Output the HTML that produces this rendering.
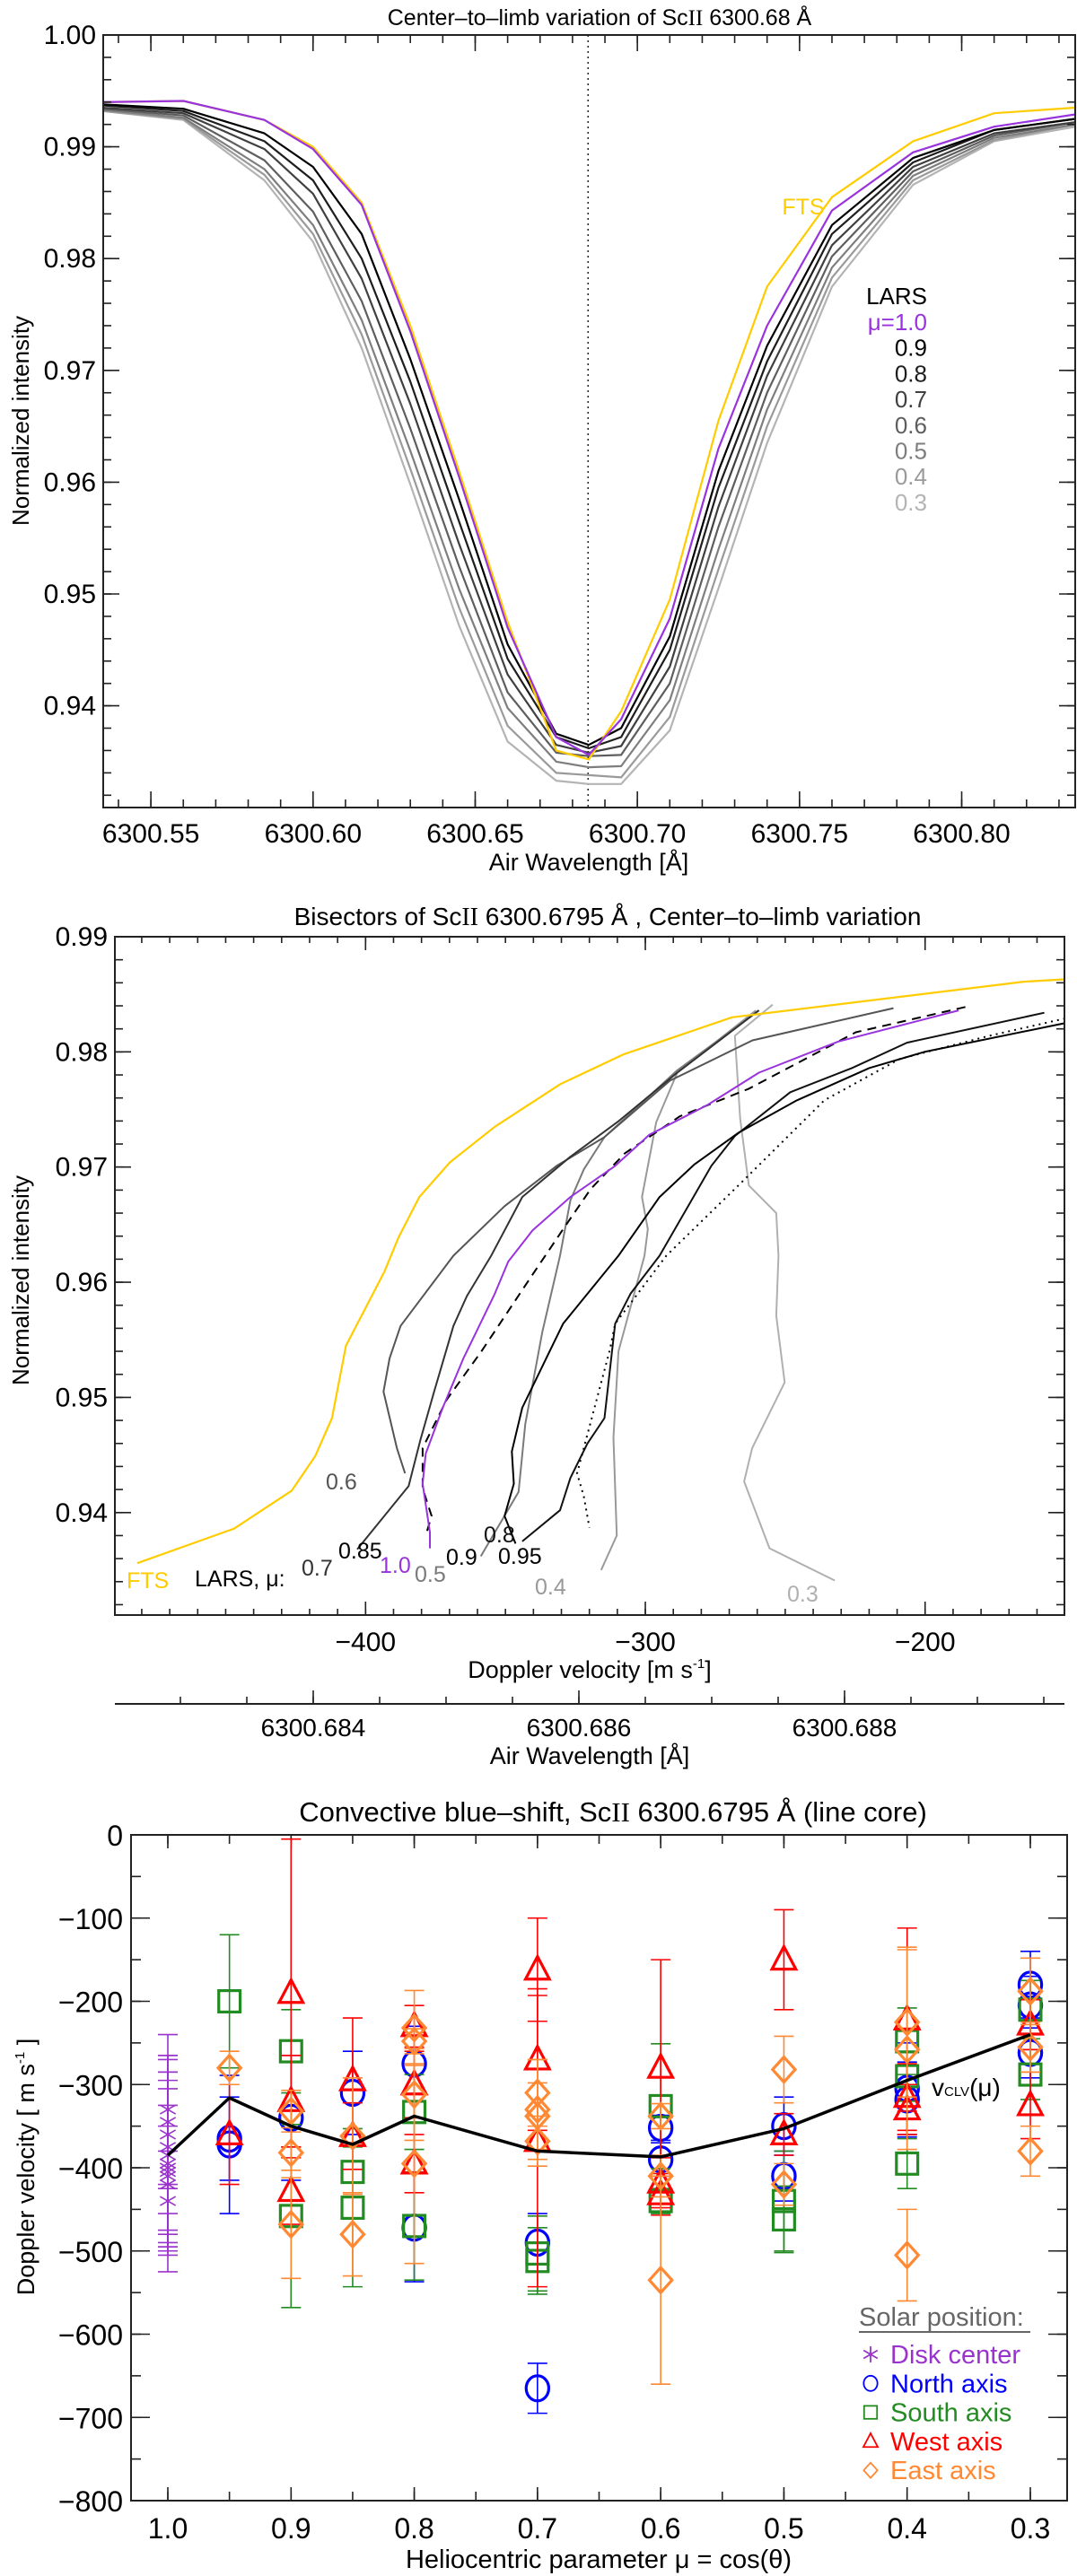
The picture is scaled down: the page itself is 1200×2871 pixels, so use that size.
<!DOCTYPE html>
<html><head><meta charset="utf-8">
<style>
html,body{margin:0;padding:0;background:#fff;}
svg{display:block;font-family:"Liberation Sans",sans-serif;}
</style></head>
<body>
<svg id="fig" xmlns="http://www.w3.org/2000/svg" width="1200" height="2871" viewBox="0 0 1200 2871">
<rect x="0" y="0" width="1200" height="2871" fill="#fff"/>
<!-- Panel 1 static text -->
<text x="668" y="28" font-size="25" text-anchor="middle">Center–to–limb variation of Sc<tspan font-family="Liberation Serif">II</tspan> 6300.68 Å</text>
<text transform="translate(32,469) rotate(-90)" font-size="26" text-anchor="middle">Normalized intensity</text>
<text x="656" y="970" font-size="27" text-anchor="middle">Air Wavelength [Å]</text>
<!-- Panel 2 static text -->
<text x="677" y="1031" font-size="28" text-anchor="middle">Bisectors of Sc<tspan font-family="Liberation Serif">II</tspan> 6300.6795 Å , Center–to–limb variation</text>
<text transform="translate(32,1427) rotate(-90)" font-size="26" text-anchor="middle">Normalized intensity</text>
<text x="657" y="1870" font-size="27" text-anchor="middle">Doppler velocity [m s<tspan font-size="15" dy="-11">-1</tspan><tspan dy="11">]</tspan></text>
<text x="657" y="1966" font-size="27" text-anchor="middle">Air Wavelength [Å]</text>
<!-- Panel 3 static text -->
<text x="683" y="2030" font-size="31" text-anchor="middle">Convective blue–shift, Sc<tspan font-family="Liberation Serif">II</tspan> 6300.6795 Å (line core)</text>
<text transform="translate(38,2415) rotate(-90)" font-size="27" text-anchor="middle">Doppler velocity [ m s<tspan font-size="15" dy="-11">-1</tspan><tspan dy="11"> ]</tspan></text>
<text x="667" y="2862" font-size="29" text-anchor="middle">Heliocentric parameter μ = cos(θ)</text>
<g id="p1"></g>
<g id="p2"></g>
<g id="p3"></g>
</svg>
<script>
// ================= Panel 1 data =================
const p1Wave = [6300.535,6300.56,6300.585,6300.60,6300.615,6300.63,6300.645,6300.66,6300.675,6300.685,6300.695,6300.71,6300.725,6300.74,6300.76,6300.785,6300.81,6300.835];
const p1FTS  = [.9940,.9941,.9924,.9900,.9850,.9740,.9610,.9475,.9360,.9352,.9395,.9495,.9655,.9775,.9855,.9905,.9930,.9935];
const p1Mu10 = [.9940,.9941,.9924,.9898,.9848,.9735,.9605,.9470,.9372,.9356,.9388,.9478,.9630,.9740,.9843,.9895,.9918,.9929];
const p1Mu09 = [.9938,.9934,.9912,.9882,.9822,.9710,.9585,.9455,.9375,.9365,.9380,.9462,.9610,.9722,.9830,.9890,.9915,.9925];
const p1Mu08 = [.9937,.9932,.9905,.9870,.9800,.9690,.9565,.9442,.9372,.9362,.9372,.9450,.9595,.9708,.9822,.9886,.9915,.9925];
const p1Mu07 = [.9935,.9930,.9898,.9858,.9782,.9670,.9545,.9428,.9365,.9358,.9364,.9435,.9578,.9695,.9812,.9882,.9912,.9922];
const p1Mu06 = [.9934,.9928,.9888,.9842,.9762,.9648,.9525,.9412,.9358,.9355,.9356,.9420,.9560,.9680,.9802,.9878,.9910,.9922];
const p1Mu05 = [.9933,.9926,.9880,.9830,.9745,.9628,.9505,.9398,.9350,.9345,.9346,.9405,.9540,.9665,.9792,.9874,.9908,.9920];
const p1Mu04 = [.9932,.9925,.9875,.9822,.9732,.9612,.9488,.9382,.9340,.9338,.9336,.9390,.9522,.9650,.9783,.9870,.9906,.9920];
const p1Mu03 = [.9932,.9924,.9870,.9815,.9720,.9598,.9472,.9368,.9333,.9330,.9330,.9378,.9505,.9635,.9775,.9866,.9905,.9918];
const p1XTicks = [6300.55,6300.60,6300.65,6300.70,6300.75,6300.80];
const p1XLabels = ["6300.55","6300.60","6300.65","6300.70","6300.75","6300.80"];
const p1YTicks = [0.94,0.95,0.96,0.97,0.98,0.99,1.00];
const p1YLabels = ["0.94","0.95","0.96","0.97","0.98","0.99","1.00"];
const p1LineCenter = 6300.6848;

// ================= Panel 2 data =================
const p2FTSv = [-150,-164.7,-269,-307.6,-330.4,-353.8,-369.9,-380.8,-388.2,-393.3,-407,-412,-418,-426.4,-447,-481.6];
const p2FTSi = [.9863,.9861,.9830,.9798,.9772,.9735,.9704,.9674,.9639,.9609,.9545,.9482,.9449,.9419,.9386,.9356];
const p2Mu10v = [-188,-231,-259.4,-277.7,-298.6,-310.8,-326.8,-340.3,-349,-353.8,-365,-372.4,-378.5,-379.6,-377,-377];
const p2Mu10i = [.9836,.9809,.9782,.9754,.9728,.9701,.9674,.9645,.9618,.9590,.9534,.9491,.9451,.9425,.9383,.9369];
const p2Mu085v = [-185.6,-224.8,-263,-287.7,-307.3,-319.5,-329.4,-341.6,-358.6,-371,-379.6,-379.6,-376.4,-378.5];
const p2Mu085i = [.9839,.9817,.9768,.9744,.9712,.9681,.9646,.9602,.9540,.9498,.9456,.9421,.9397,.9380];
const p2Mu07v = [-259.4,-288.6,-309.5,-326.8,-344,-355.1,-363.8,-368.6,-375.5,-380.4,-384.6,-403];
const p2Mu07i = [.9836,.9782,.9740,.9709,.9674,.9623,.9588,.9562,.9505,.9463,.9423,.9368];
const p2Mu06v = [-211.3,-261.7,-291.2,-314.6,-331.7,-350.3,-368.6,-387.5,-391.4,-393.6,-388.8,-385.9];
const p2Mu06i = [.9838,.9810,.9775,.9726,.9701,.9666,.9623,.9562,.9534,.9505,.9456,.9434];
const p2Mu05v = [-259.4,-288.6,-314.6,-322,-326.8,-330.5,-336.8,-342.9,-345.3,-358.8];
const p2Mu05i = [.9836,.9784,.9726,.9698,.9671,.9623,.9557,.9477,.9418,.9362];
const p2Mu04v = [-260.5,-270.4,-288.6,-296.1,-301.2,-299.1,-300.3,-309.6,-311.4,-310.2,-315.8];
const p2Mu04i = [.9836,.9817,.9782,.9739,.9674,.9646,.9623,.9540,.9465,.9380,.9350];
const p2Mu03v = [-254.5,-268,-266.1,-263,-253.2,-252.4,-253.2,-250.2,-261.8,-264.7,-255.6,-232.3];
const p2Mu03i = [.9841,.9814,.9742,.9684,.9660,.9623,.9571,.9513,.9456,.9427,.9369,.9341];
const p2Mu09v = [-150,-200.3,-219.9,-245.8,-266.6,-282.6,-294.9,-309.6,-329.4,-334.2,-344,-347.7,-347,-350.3,-346.4];
const p2Mu09i = [.9825,.9800,.9786,.9758,.9730,.9702,.9674,.9623,.9564,.9540,.9491,.9453,.9425,.9397,.9373];
const p2Mu08v = [-157.4,-206.5,-226.1,-248.2,-268,-276.4,-294.9,-305.3,-310.8,-314.6,-320.7,-326.8,-330.5,-344];
const p2Mu08i = [.9834,.9808,.9786,.9765,.9727,.9701,.9623,.9590,.9564,.9482,.9460,.9430,.9402,.9375];
const p2Mu095v = [-150,-177,-209,-236,-265.5,-292.5,-310.8,-312.7,-324.4,-322,-320];
const p2Mu095i = [.9829,.9814,.9794,.9758,.9687,.9623,.9564,.9541,.9434,.9414,.9387];
const p2XTicks = [-400,-300,-200];
const p2XLabels = ["−400","−300","−200"];
const p2YTicks = [0.94,0.95,0.96,0.97,0.98,0.99];
const p2YLabels = ["0.94","0.95","0.96","0.97","0.98","0.99"];
const p2WTicks = [6300.684,6300.686,6300.688];
const p2WLabels = ["6300.684","6300.686","6300.688"];

// ================= Panel 3 data =================
const diskMu  = [1,1,1,1,1,1,1,1,1,1,1];
const diskVel = [-330,-345,-360,-375,-385,-395,-400,-405,-410,-420,-440];
const diskErr = [90,80,95,105,90,110,95,120,85,70,60];
const northMu  = [0.95,0.95,0.9,0.85,0.8,0.8,0.7,0.7,0.6,0.6,0.5,0.5,0.4,0.4,0.3,0.3,0.3];
const northVel = [-365,-372,-340,-310,-275,-472,-490,-665,-352,-390,-350,-410,-305,-318,-180,-205,-262];
const northErr = [50,83,75,50,45,65,35,30,15,20,35,30,55,45,40,35,30];
const southMu  = [0.95,0.9,0.9,0.85,0.85,0.8,0.8,0.7,0.7,0.6,0.6,0.5,0.5,0.4,0.4,0.4,0.3,0.3];
const southVel = [-200,-260,-458,-405,-448,-333,-470,-503,-512,-326,-440,-440,-462,-248,-290,-395,-210,-288];
const southErr = [80,50,110,30,95,45,65,45,40,75,15,60,40,40,30,30,35,30];
const westMu  = [0.95,0.9,0.9,0.9,0.85,0.85,0.8,0.8,0.8,0.7,0.7,0.7,0.6,0.6,0.6,0.5,0.5,0.4,0.4,0.4,0.3,0.3];
const westVel = [-360,-190,-320,-428,-295,-362,-230,-300,-395,-162,-270,-368,-280,-418,-432,-150,-360,-222,-315,-330,-228,-325];
const westErr = [60,185,55,40,75,40,25,40,35,62,85,175,130,30,25,60,25,110,40,30,30,40];
const eastMu  = [0.95,0.9,0.9,0.9,0.85,0.85,0.8,0.8,0.8,0.8,0.7,0.7,0.7,0.7,0.6,0.6,0.6,0.5,0.5,0.4,0.4,0.4,0.3,0.3,0.3];
const eastVel = [-280,-332,-382,-468,-362,-480,-232,-248,-312,-395,-310,-330,-338,-368,-338,-410,-535,-282,-420,-225,-258,-505,-188,-255,-380];
const eastErr = [20,25,30,65,70,50,45,15,55,120,40,60,40,30,15,25,125,40,25,90,120,55,40,30,30];
const clvMu  = [1.0,0.95,0.9,0.85,0.8,0.7,0.6,0.5,0.4,0.3];
const clvVel = [-385,-316,-350,-372,-338,-380,-387,-353,-295,-240];
const p3XTicks = [1.0,0.9,0.8,0.7,0.6,0.5,0.4,0.3];
const p3XLabels = ["1.0","0.9","0.8","0.7","0.6","0.5","0.4","0.3"];
const p3YTicks = [-800,-700,-600,-500,-400,-300,-200,-100,0];
const p3YLabels = ["−800","−700","−600","−500","−400","−300","−200","−100","0"];

// ================= helpers =================
const NS = "http://www.w3.org/2000/svg";
function mk(tag, attrs, parent){
  const e = document.createElementNS(NS, tag);
  for (const k in attrs) e.setAttribute(k, attrs[k]);
  parent.appendChild(e);
  return e;
}
function lin(d0,d1,r0,r1){ return v => r0 + (v-d0)/(d1-d0)*(r1-r0); }
function range(a,b,s){ const out=[]; const n=Math.round((b-a)/s); for(let i=0;i<=n;i++) out.push(a+i*s); return out; }

function frame(g, L, R, T, B){
  const r = mk('rect',{x:L,y:T,width:R-L,height:B-T,fill:'none',stroke:'#222','stroke-width':2},g);
  
  
}
function xTicks(g, vals, sx, T, B, len){
  vals.forEach(v=>{
    const x = sx(v);
    const t1 = mk('line',{x1:x,y1:B,x2:x,y2:B-len,stroke:'#222','stroke-width':1.6},g);
    
    
    const t2 = mk('line',{x1:x,y1:T,x2:x,y2:T+len,stroke:'#222','stroke-width':1.6},g);
    
    
  });
}
function yTicks(g, vals, sy, L, R, len){
  vals.forEach(v=>{
    const y = sy(v);
    const t1 = mk('line',{x1:L,y1:y,x2:L+len,y2:y,stroke:'#222','stroke-width':1.6},g);
    
    
    const t2 = mk('line',{x1:R,y1:y,x2:R-len,y2:y,stroke:'#222','stroke-width':1.6},g);
    
    
  });
}
function label(g, txt, x, y, size, anchor, color, name){
  const t = mk('text',{x:x,y:y,'font-size':size,'text-anchor':anchor,fill:color||'#000'},g);
  t.textContent = txt;
  
  
  return t;
}
function pathFrom(xs, ys, sx, sy){
  return xs.map((v,i)=>(i?'L':'M')+sx(v).toFixed(1)+','+sy(ys[i]).toFixed(1)).join(' ');
}

// ================= Panel 1 =================
(function(){
  const g = document.getElementById('p1');
  const L=115,R=1198,T=39,B=900;
  const sx = lin(6300.5353,6300.835,L,R);
  const sy = lin(1.0,0.9309,T,B);
  const clip = mk('clipPath',{id:'c1'},g); mk('rect',{x:L,y:T,width:R-L,height:B-T},clip);
  const cl = mk('g',{'clip-path':'url(#c1)'},g);
  const dl = mk('line',{x1:sx(p1LineCenter),y1:T,x2:sx(p1LineCenter),y2:B,stroke:'#222','stroke-width':1.5,'stroke-dasharray':'2,4'},cl);
  
  
  const series = [
    [p1Mu03,'#b4b4b4','profile-mu-0.3'],[p1Mu04,'#9a9a9a','profile-mu-0.4'],[p1Mu05,'#7e7e7e','profile-mu-0.5'],
    [p1Mu06,'#5e5e5e','profile-mu-0.6'],[p1Mu07,'#404040','profile-mu-0.7'],[p1Mu08,'#1e1e1e','profile-mu-0.8'],
    [p1Mu09,'#000000','profile-mu-0.9'],[p1FTS,'#ffcc00','profile-fts'],[p1Mu10,'#9933dd','profile-mu-1.0']
  ];
  series.forEach(s=>{
    const p = mk('path',{d:pathFrom(p1Wave,s[0],sx,sy),fill:'none',stroke:s[1],'stroke-width':2.2,'stroke-linejoin':'round'},cl);
    
    
  });
  frame(g,L,R,T,B);
  xTicks(g, range(6300.54,6300.83,0.01), sx, T, B, 9);
  xTicks(g, p1XTicks, sx, T, B, 18);
  yTicks(g, range(0.932,1.0,0.002), sy, L, R, 9);
  yTicks(g, p1YTicks, sy, L, R, 18);
  p1XTicks.forEach((v,i)=>label(g,p1XLabels[i],sx(v),939,30,'middle','#000','x-tick-label'));
  p1YTicks.forEach((v,i)=>label(g,p1YLabels[i],L-8,sy(v)+10,30,'end','#000','y-tick-label'));
  label(g,'FTS',895,239,25,'middle','#ffcc00','legend-fts');
  label(g,'LARS',1033,339,26,'end','#000','legend-lars');
  const leg = [['μ=1.0','#9933dd'],['0.9','#000'],['0.8','#1e1e1e'],['0.7','#404040'],['0.6','#5e5e5e'],['0.5','#7e7e7e'],['0.4','#9a9a9a'],['0.3','#b4b4b4']];
  leg.forEach((l,i)=>label(g,l[0],1033,368+i*28.7,26,'end',l[1],'legend-entry'));
})();

// ================= Panel 2 =================
(function(){
  const g = document.getElementById('p2');
  const L=128,R=1186,T=1044,B=1800;
  const sx = lin(-489.6,-150.2,L,R);
  const sy = lin(0.99,0.9311,T,B);
  const clip = mk('clipPath',{id:'c2'},g); mk('rect',{x:L,y:T,width:R-L,height:B-T},clip);
  const cl = mk('g',{'clip-path':'url(#c2)'},g);
  const series = [
    [p2Mu03v,p2Mu03i,'#b0b0b0',2,null,'bisector-mu-0.3'],
    [p2Mu04v,p2Mu04i,'#999999',2,null,'bisector-mu-0.4'],
    [p2Mu05v,p2Mu05i,'#7a7a7a',2,null,'bisector-mu-0.5'],
    [p2Mu06v,p2Mu06i,'#555555',2,null,'bisector-mu-0.6'],
    [p2Mu07v,p2Mu07i,'#333333',2,null,'bisector-mu-0.7'],
    [p2Mu08v,p2Mu08i,'#111111',2,null,'bisector-mu-0.8'],
    [p2Mu09v,p2Mu09i,'#000000',2,null,'bisector-mu-0.9'],
    [p2Mu095v,p2Mu095i,'#000000',2,'2,5','bisector-mu-0.95'],
    [p2Mu085v,p2Mu085i,'#000000',2,'10,7','bisector-mu-0.85'],
    [p2Mu10v,p2Mu10i,'#9933dd',2,null,'bisector-mu-1.0'],
    [p2FTSv,p2FTSi,'#ffcc00',2.2,null,'bisector-fts']
  ];
  series.forEach(s=>{
    const a = {d:pathFrom(s[0],s[1],sx,sy),fill:'none',stroke:s[2],'stroke-width':s[3],'stroke-linejoin':'round'};
    if (s[4]) a['stroke-dasharray']=s[4];
    const p = mk('path',a,cl);
    
    
  });
  frame(g,L,R,T,B);
  xTicks(g, range(-480,-160,10), sx, T, B, 7);
  xTicks(g, p2XTicks, sx, T, B, 15);
  yTicks(g, range(0.932,0.99,0.002), sy, L, R, 9);
  yTicks(g, p2YTicks, sy, L, R, 18);
  p2XTicks.forEach((v,i)=>label(g,p2XLabels[i],sx(v),1840,30,'middle','#000','x-tick-label'));
  p2YTicks.forEach((v,i)=>label(g,p2YLabels[i],L-8,sy(v)+10,30,'end','#000','y-tick-label'));
  // secondary wavelength axis
  const sw = lin(6300.684,6300.686,349,645);
  const ax = mk('line',{x1:L,y1:1899,x2:R,y2:1899,stroke:'#222','stroke-width':2},g);
  
  
  range(6300.6830,6300.6895,0.0005).forEach(v=>{
    const x = sw(v); if (x<L||x>R) return;
    const t = mk('line',{x1:x,y1:1899,x2:x,y2:1891,stroke:'#222','stroke-width':1.6},g);
    
    
  });
  p2WTicks.forEach(v=>{
    const t = mk('line',{x1:sw(v),y1:1899,x2:sw(v),y2:1884,stroke:'#222','stroke-width':1.6},g);
    
    
  });
  p2WTicks.forEach((v,i)=>label(g,p2WLabels[i],sw(v),1935,28,'middle','#000','wavelength-tick-label'));
  const labs = [
    ['FTS',141,1770,'#ffcc00','label-fts'],['LARS, μ:',217,1768,'#000','label-lars-mu'],
    ['0.7',336,1756,'#333333','label-mu-0.7'],['0.85',377,1737,'#000','label-mu-0.85'],
    ['1.0',423,1753,'#9933dd','label-mu-1.0'],['0.5',462,1763,'#7a7a7a','label-mu-0.5'],
    ['0.9',497,1744,'#000','label-mu-0.9'],['0.8',539,1719,'#111','label-mu-0.8'],
    ['0.95',555,1743,'#000','label-mu-0.95'],['0.4',596,1777,'#999999','label-mu-0.4'],
    ['0.6',363,1660,'#555555','label-mu-0.6'],['0.3',877,1785,'#b0b0b0','label-mu-0.3']
  ];
  labs.forEach(l=>label(g,l[0],l[1],l[2],25,'start',l[3],l[4]));
})();

// ================= Panel 3 =================
(function(){
  const g = document.getElementById('p3');
  const L=146,R=1189,T=2045,B=2787;
  const sx = lin(1.0,0.3,187,1148);
  const sy = lin(0,-800,T,B);
  frame(g,L,R,T,B);
  xTicks(g, range(0.3,1.0,0.05), sx, T, B, 10);
  xTicks(g, p3XTicks, sx, T, B, 15);
  yTicks(g, range(-800,0,50), sy, L, R, 11);
  yTicks(g, p3YTicks, sy, L, R, 21);
  p3XTicks.forEach((v,i)=>label(g,p3XLabels[i],sx(v),2829,32,'middle','#000','x-tick-label'));
  p3YTicks.forEach((v,i)=>label(g,p3YLabels[i],137,sy(v)+12,32,'end','#000','y-tick-label'));

  function marker(kind, x, y, color, sz, sw, parent){
    let e;
    if (kind==='star'){
      e = mk('g',{stroke:color,'stroke-width':sw},parent);
      [[0,1],[0.866,0.5],[0.866,-0.5]].forEach(d=>mk('line',{x1:x-d[0]*sz,y1:y-d[1]*sz,x2:x+d[0]*sz,y2:y+d[1]*sz},e));
    } else if (kind==='circle'){
      e = mk('ellipse',{cx:x,cy:y,rx:sz*0.9,ry:sz,fill:'none',stroke:color,'stroke-width':sw},parent);
    } else if (kind==='square'){
      e = mk('rect',{x:x-sz*0.85,y:y-sz*0.85,width:sz*1.7,height:sz*1.7,fill:'none',stroke:color,'stroke-width':sw},parent);
    } else if (kind==='tri'){
      e = mk('polygon',{points:`${x},${y-sz*1.05} ${x+sz*0.95},${y+sz*0.75} ${x-sz*0.95},${y+sz*0.75}`,fill:'none',stroke:color,'stroke-width':sw,'stroke-linejoin':'miter'},parent);
    } else {
      e = mk('polygon',{points:`${x},${y-sz} ${x+sz*0.9},${y} ${x},${y+sz} ${x-sz*0.9},${y}`,fill:'none',stroke:color,'stroke-width':sw},parent);
    }
    return e;
  }
  const sets = [
    [diskMu,diskVel,diskErr,'#9933cc','star','disk-center'],
    [northMu,northVel,northErr,'#0000ff','circle','north-axis'],
    [southMu,southVel,southErr,'#228b22','square','south-axis'],
    [westMu,westVel,westErr,'#ff0000','tri','west-axis'],
    [eastMu,eastVel,eastErr,'#ff8833','diamond','east-axis']
  ];
  sets.forEach(s=>{
    const grp = mk('g',{},g);
    
    
    s[0].forEach((mu,i)=>{
      const x = sx(mu), y0 = sy(s[1][i]+s[2][i]), y1 = sy(s[1][i]-s[2][i]);
      const eb = mk('path',{d:`M${x},${y0} L${x},${y1} M${x-11},${y0} L${x+11},${y0} M${x-11},${y1} L${x+11},${y1}`,stroke:s[3],'stroke-width':1.6,fill:'none'},grp);
      
      
    });
    s[0].forEach((mu,i)=>{
      const m = marker(s[4], sx(mu), sy(s[1][i]), s[3], s[4]==='star'?10:14, s[4]==='star'?1.6:3.2, grp);
      
      
    });
  });
  const clv = mk('path',{d:pathFrom(clvMu,clvVel,sx,sy),fill:'none',stroke:'#000','stroke-width':3.5,'stroke-linejoin':'round'},g);
  
  
  const vl = mk('text',{x:1038,y:2336,'font-size':28,fill:'#000'},g);
  vl.innerHTML = 'v<tspan font-size="15">CLV</tspan>(μ)';
  
  
  // legend
  const lg = mk('g',{},g);
  
  
  label(lg,'Solar position:',957,2592,29,'start','#666','legend-title');
  const ul = mk('line',{x1:957,y1:2599,x2:1148,y2:2599,stroke:'#666','stroke-width':2},lg);
  
  
  const ents = [['Disk center','#9933cc','star'],['North axis','#0000ff','circle'],['South axis','#228b22','square'],['West axis','#ff0000','tri'],['East axis','#ff8833','diamond']];
  ents.forEach((e,i)=>{
    const y = 2634 + i*32.3;
    const m = marker(e[2], 970, y-10, e[1], e[2]==='star'?9:8.5, 1.8, lg);
    
    
    label(lg,e[0],992,y,29,'start',e[1],'legend-entry');
  });
})();
</script>
</body></html>
